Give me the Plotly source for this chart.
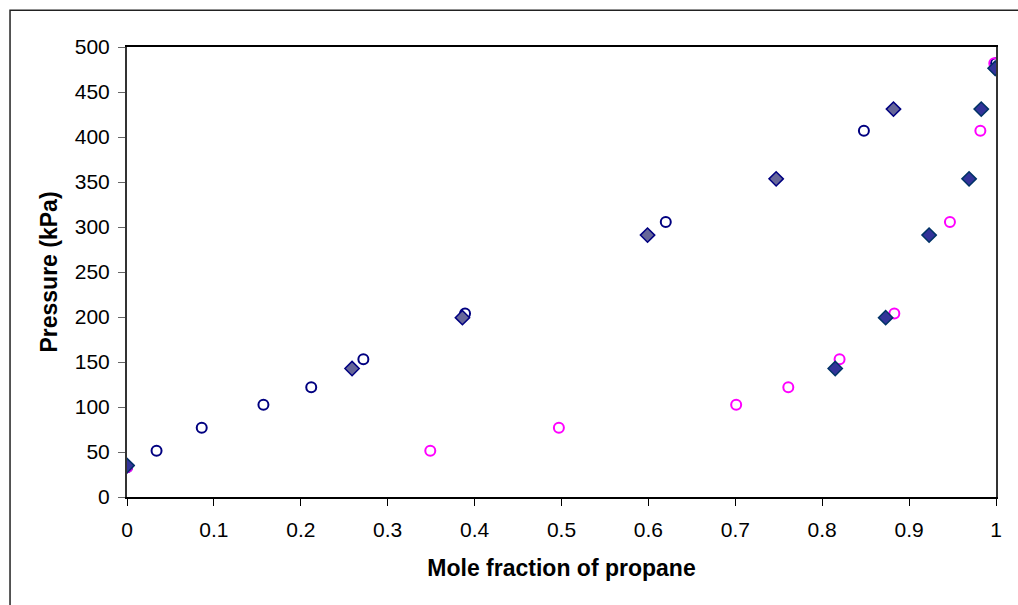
import plotly.graph_objects as go

# Pressure levels (kPa) shared by each pair of series
p_exp = [33, 51.5, 77, 102.5, 122, 153, 204, 305.6, 407, 482]
p_calc = [34.9, 142.7, 199.3, 291, 353.5, 431, 476.3]

# Measured compositions (open circles)
x_exp_left = [0, 0.034, 0.086, 0.157, 0.212, 0.272, 0.389, 0.620, 0.848, 1.0]
x_exp_right = [0, 0.349, 0.497, 0.701, 0.761, 0.820, 0.883, 0.947, 0.982, 0.998]

# Calculated compositions (diamonds)
x_calc_left = [0, 0.259, 0.386, 0.599, 0.747, 0.882, 1.0]
x_calc_right = [0, 0.815, 0.873, 0.923, 0.969, 0.983, 0.999]

x_ticks = [0, 0.1, 0.2, 0.3, 0.4, 0.5, 0.6, 0.7, 0.8, 0.9, 1]
y_ticks = [0, 50, 100, 150, 200, 250, 300, 350, 400, 450, 500]

FONT = "Arial, 'Liberation Sans', sans-serif"

fig = go.Figure()

fig.add_trace(go.Scatter(
    x=x_exp_left, y=p_exp, mode="markers",
    marker=dict(symbol="circle-open", size=10, color="#000080",
                line=dict(width=2, color="#000080")),
))
fig.add_trace(go.Scatter(
    x=x_exp_right, y=p_exp, mode="markers",
    marker=dict(symbol="circle-open", size=10, color="#FF00FF",
                line=dict(width=2, color="#FF00FF")),
))
fig.add_trace(go.Scatter(
    x=x_calc_left, y=p_calc, mode="markers",
    marker=dict(symbol="diamond", size=11, color="#666699",
                line=dict(width=1.5, color="#000080")),
))
fig.add_trace(go.Scatter(
    x=x_calc_right, y=p_calc, mode="markers",
    marker=dict(symbol="diamond", size=11, color="#333399",
                line=dict(width=1.5, color="#003366")),
))

# Outer chart frame (left and top edges fall inside the page)
fig.add_shape(type="rect", xref="paper", yref="paper",
              x0=-0.1346, x1=1.5, y0=-0.6, y1=1.0815,
              line=dict(color="#222222", width=1.5), layer="below")

fig.update_layout(
    width=1018, height=605,
    margin=dict(l=127, r=22, t=47, b=108),
    paper_bgcolor="white", plot_bgcolor="white",
    showlegend=False,
    font=dict(family=FONT, size=21, color="black"),
)

fig.update_xaxes(
    range=[0, 1], tickvals=x_ticks, ticktext=[str(v) for v in x_ticks],
    showgrid=False, zeroline=False,
    showline=True, linecolor="black", linewidth=2, mirror=True,
    ticks="outside", ticklen=7, tickwidth=1, tickcolor="black",
    ticklabelstandoff=6,
    title=dict(text="<b>Mole fraction of propane</b>", standoff=20,
               font=dict(family=FONT, size=23)),
)
fig.update_yaxes(
    range=[0, 500], tickvals=y_ticks,
    showgrid=False, zeroline=False,
    showline=True, linecolor="#333333", linewidth=2, mirror=True,
    ticks="outside", ticklen=7, tickwidth=1, tickcolor="#666666",
    ticklabelstandoff=4,
    title=dict(text="<b>Pressure (kPa)</b>", standoff=11,
               font=dict(family=FONT, size=23)),
)

fig.write_html("out.html")
